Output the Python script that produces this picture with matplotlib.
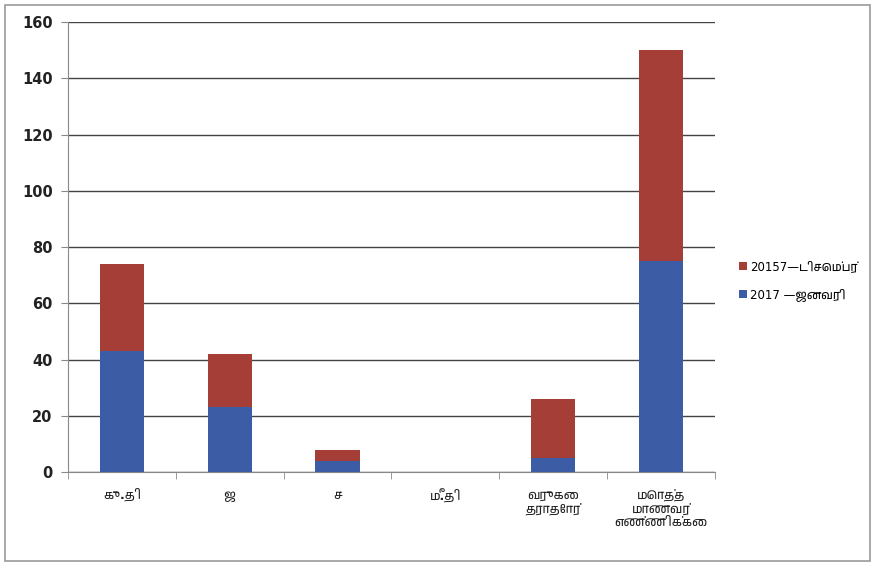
import matplotlib
matplotlib.use("Agg")
import matplotlib.pyplot as plt
import numpy as np
from matplotlib import font_manager as fm
from matplotlib.ft2font import FT2Font

categories = ["கு.தி", "ஜ", "ச", "மீ.தி", "வருகை\nதராதோர்", "மொத்த\nமாணவர்\nஎண்ணிக்கை"]
jan_2017 = [43, 23, 4, 0, 5, 75]
dec_2015 = [31, 19, 4, 0, 21, 75]
series_labels = ["20157—டிசெம்பர்", "2017 —ஜனவரி"]
yticks = [0, 20, 40, 60, 80, 100, 120, 140, 160]

candidates = []
for f in fm.fontManager.ttflist:
    try:
        if 0x0B95 in FT2Font(f.fname).get_charmap():
            candidates.append(f.name)
    except Exception:
        pass
tamil = None
for pref in (lambda n: "Tamil" in n and "Mono" not in n,
             lambda n: "Mono" not in n,
             lambda n: True):
    for n in candidates:
        if pref(n):
            tamil = n
            break
    if tamil:
        break
fams = ["DejaVu Sans"] + ([tamil] if tamil else [])
plt.rcParams["font.family"] = fams

fig = plt.figure(figsize=(8.75, 5.66), dpi=100)
fig.patch.set_facecolor("white")
ax = fig.add_axes([0.0777, 0.166, 0.739, 0.795])

x = np.arange(len(categories))
blue = "#3D5CA6"
red = "#A63E38"
b1 = ax.bar(x, jan_2017, width=0.41, color=blue, zorder=3)
b2 = ax.bar(x, dec_2015, width=0.41, bottom=jan_2017, color=red, zorder=3)

ax.set_xlim(-0.5, len(categories) - 0.5)
ax.set_ylim(0, 160)
ax.set_yticks(yticks)
ax.set_yticklabels([str(v) for v in yticks])
for t in ax.get_yticklabels():
    t.set_fontsize(10.5)
    t.set_fontweight("bold")
    t.set_color("#222222")
ax.yaxis.grid(True, color="#444444", linewidth=1.0, zorder=0)
ax.set_axisbelow(True)
ax.set_xticks(x)
ax.set_xticklabels(categories, linespacing=1.1)
for t in ax.get_xticklabels():
    t.set_fontsize(9)
    t.set_fontweight("bold")
    t.set_color("#222222")
ax.tick_params(axis="x", length=0, pad=12)
ax.set_xticks(np.arange(-0.5, len(categories), 1.0), minor=True)
ax.tick_params(axis="x", which="minor", length=5, color="#888888", direction="out")
ax.tick_params(axis="y", length=5, color="#888888", direction="out", pad=6)
for s in ["top", "right"]:
    ax.spines[s].set_visible(False)
for s in ["left", "bottom"]:
    ax.spines[s].set_color("#888888")

leg = fig.legend([b2, b1], series_labels, loc="center left",
                 bbox_to_anchor=(0.832, 0.504), frameon=False, fontsize=8.5,
                 handlelength=0.7, handleheight=0.7, handletextpad=0.3,
                 labelspacing=1.3)

border = plt.Rectangle((0.006, 0.009), 0.988, 0.982, transform=fig.transFigure,
                       fill=False, edgecolor="#999999", linewidth=1.2)
fig.patches.append(border)

fig.savefig("out.png", dpi=100)
